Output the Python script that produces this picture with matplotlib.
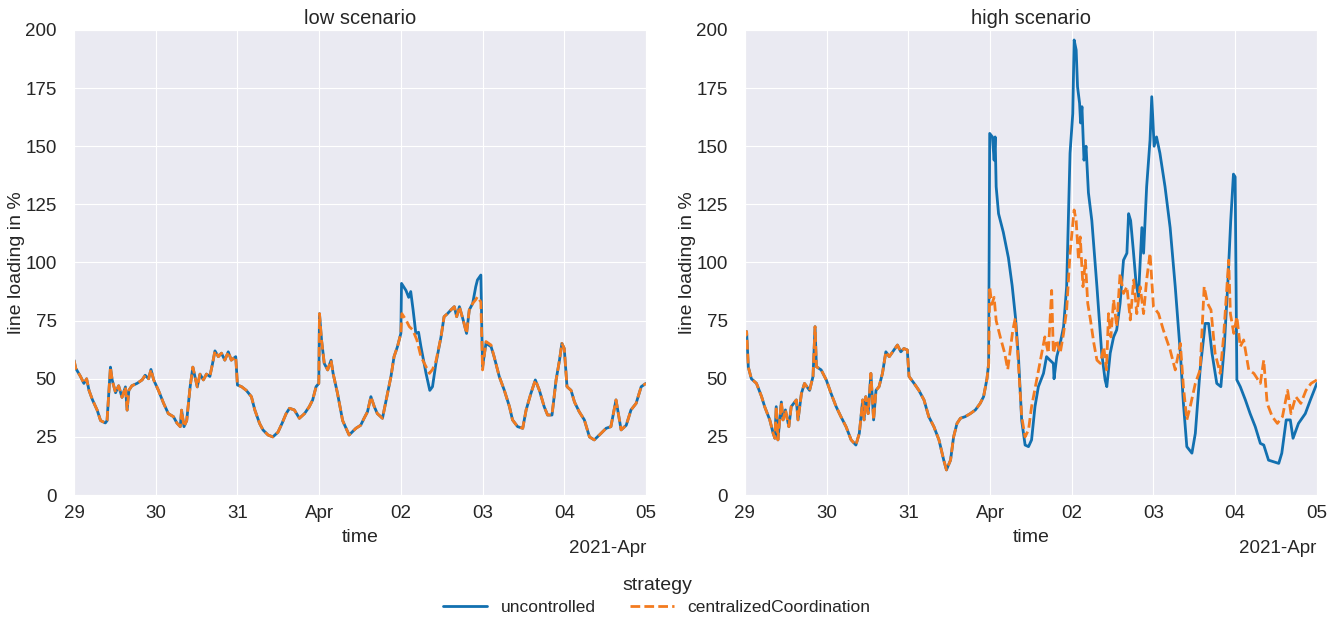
import matplotlib
matplotlib.use("Agg")
import matplotlib.pyplot as plt
import matplotlib.dates as mdates
import pandas as pd
import seaborn as sns

# hours after 2021-03-29 00:00 and line loading in %
low_unc_hours = [0, 0.5, 1.9, 2.9, 3.7, 4.4, 5.4, 6.8, 7.8, 9.2, 9.7, 10.7, 11.2, 12.2, 13.1, 14.1, 15.1, 15.6,
                 16.1, 17, 18.5, 20, 20.9, 21.9, 22.6, 23.4, 24.8, 26.3, 27.7, 29.2, 30.2, 31.2, 31.6, 32.3, 33.1,
                 34.1, 34.9, 35.5, 36.2, 37, 38, 38.9, 39.9, 40.7, 41.4, 42.4, 43.3, 44.3, 45.3, 46.2, 47.5, 48,
                 49.2, 50.6, 52.1, 53.1, 54.5, 55.5, 57, 58.4, 59.9, 61.1, 62.3, 63.3, 64.7, 66.2, 67.7, 69.1, 70.1,
                 71.1, 71.9, 72.1, 72.7, 73.5, 74.5, 75.5, 76.1, 77.4, 78.9, 80.8, 82.8, 84.2, 85.2, 86.2, 87.2,
                 88.2, 89.1, 90.6, 92.1, 93.1, 94, 95, 96, 96.2, 97.5, 98.3, 98.9, 99.6, 100.4, 101.2, 101.9, 103.4,
                 104.5, 105.3, 106.3, 107.8, 108.7, 109.7, 110.7, 111.7, 112.4, 113.2, 114.3, 115.3, 116.1, 117.1,
                 118, 118.5, 119.5, 120, 121, 122.5, 123.4, 124.9, 126.4, 127.9, 128.8, 130.3, 131.8, 132.8, 134.2,
                 135.5, 136.7, 138.1, 139.1, 140.4, 141.6, 142.6, 143.3, 144, 144.8, 146, 147, 148.4, 149.9, 151.4,
                 152.8, 154.3, 156.3, 157.7, 159.2, 160.7, 162.2, 163.6, 165.1, 166.6, 168]
low_unc_values = [58, 54.5, 51, 48, 50, 45, 41, 36.5, 32, 31, 32, 55, 49.5, 44, 47, 42, 46.5, 36.5,
                  45, 47, 48, 49.5, 51.5, 50, 54, 49.5, 45, 39.5, 35, 33.7, 31, 29.4, 36.5, 29.4, 32,
                  46.5, 55, 51, 46.5, 52, 49.5, 52, 51, 56.6, 62, 59.5, 61, 58, 61.6, 58, 59.5, 47.3,
                  46.6, 45, 42.3, 36.6, 30.8, 28, 25.8, 25, 27, 30.8, 35, 37.3, 36.6, 33, 35, 38, 40.9,
                  46.6, 48, 78, 66.7, 56.6, 53.8, 58, 52.3, 43.7, 32, 25.8, 28.7, 30, 33, 35.8, 42.3,
                  38, 35, 33, 43.7, 51, 59.5, 63.8, 69.5, 91, 88, 85, 87.5, 79.6, 69.5, 70, 63.8, 52.3,
                  45, 46.6, 56.6, 68, 76.7, 78, 79.6, 81, 76.7, 81, 75.3, 69.5, 79.6, 82.4,
                  89.6, 92.5, 94.6, 55.2, 65.2, 63.8, 59.5, 51, 45, 38, 32.3, 29.4, 28.7, 36.6, 43.7,
                  49.5, 45, 38, 34.4, 34.4, 49.5, 58, 65.2, 63, 46.6, 45, 40, 35.8, 32.3, 25,
                  23.7, 25.8, 28.7, 29.4, 40.9, 28, 30, 36.6, 39.4, 46.6, 48]

low_cc_hours = [0, 0.5, 1.9, 2.9, 3.7, 4.4, 5.4, 6.8, 7.8, 9.2, 9.7, 10.7, 11.2, 12.2, 13.1, 14.1, 15.1, 15.6,
                16.1, 17, 18.5, 20, 20.9, 21.9, 22.6, 23.4, 24.8, 26.3, 27.7, 29.2, 30.2, 31.2, 31.6, 32.3, 33.1,
                34.1, 34.9, 35.5, 36.2, 37, 38, 38.9, 39.9, 40.7, 41.4, 42.4, 43.3, 44.3, 45.3, 46.2, 47.5, 48,
                49.2, 50.6, 52.1, 53.1, 54.5, 55.5, 57, 58.4, 59.9, 61.1, 62.3, 63.3, 64.7, 66.2, 67.7, 69.1, 70.1,
                71.1, 71.9, 72.1, 72.7, 73.5, 74.5, 75.5, 76.1, 77.4, 78.9, 80.8, 82.8, 84.2, 85.2, 86.2, 87.2,
                88.2, 89.1, 90.6, 92.1, 93.1, 94, 95, 96, 96.3, 97.5, 98.5, 99.5, 100.7, 101.9, 103.4, 104.4,
                105.3, 106.3, 107.8, 108.7, 109.7, 110.7, 111.7, 112.4, 113.2, 114.3, 115.3, 116.1, 117.1,
                118, 118.5, 119.5, 120, 121, 122.5, 123.4, 124.9, 126.4, 127.9, 128.8, 130.3, 131.8, 132.8, 134.2,
                135.5, 136.7, 138.1, 139.1, 140.4, 141.6, 142.6, 143.3, 144, 144.8, 146, 147, 148.4, 149.9, 151.4,
                152.8, 154.3, 156.3, 157.7, 159.2, 160.7, 162.2, 163.6, 165.1, 166.6, 168]
low_cc_values = [58, 54.5, 51, 48, 50, 45, 41, 36.5, 32, 31, 32, 55, 49.5, 44, 47, 42, 46.5, 36.5,
                 45, 47, 48, 49.5, 51.5, 50, 54, 49.5, 45, 39.5, 35, 33.7, 31, 29.4, 36.5, 29.4, 32,
                 46.5, 55, 51, 46.5, 52, 49.5, 52, 51, 56.6, 62, 59.5, 61, 58, 61.6, 58, 59.5, 47.3,
                 46.6, 45, 42.3, 36.6, 30.8, 28, 25.8, 25, 27, 30.8, 35, 37.3, 36.6, 33, 35, 38, 40.9,
                 46.6, 48, 78, 66.7, 56.6, 53.8, 58, 52.3, 43.7, 32, 25.8, 28.7, 30, 33, 35.8, 42.3,
                 38, 35, 33, 43.7, 51, 59.5, 63.8, 69.5, 78, 75.3, 72.4, 71, 66.7, 59.5, 55.2, 52.3,
                 54, 57.5, 68, 76.7, 78, 79.6, 81, 76.7, 81, 75.3, 69.5, 79.6, 82.4,
                 84, 85.3, 83, 53.8, 66, 64.5, 59.5, 51, 45, 38, 32.3, 29.4, 28.7, 36.6, 43.7,
                 49.5, 45, 38, 34.4, 34.4, 49.5, 58, 65.2, 63, 46.6, 45, 40, 35.8, 32.3, 25,
                 23.7, 25.8, 28.7, 29.4, 40.9, 28, 30, 36.6, 39.4, 46.6, 48]

# high scenario: both strategies identical until 1 April
high_common_hours = [0, 0.5, 1, 1.9, 3.4, 4.9, 5.8, 7.3, 8.3, 8.8, 9.2, 9.7, 10.7, 11.2, 11.9, 12.9, 13.6, 15.1,
                     15.6, 16.6, 17.5, 19, 20, 20.6, 21, 22.4, 23.9, 25.3, 26.8, 28.2, 29.7, 31.2, 32.6, 33.6,
                     34.6, 35, 35.5, 36.2, 37, 37.8, 38.5, 39.4, 40.4, 41.4, 42.4, 43.8, 44.8, 45.8, 46.7, 47.7,
                     48.2, 49.7, 51.1, 52.6, 54, 55.5, 57, 58.4, 59.2, 60.4, 61.3, 62.3, 63.3, 64.7, 66.2, 67.7,
                     69.1, 70.1, 71.1, 71.6]
high_common_values = [68, 70.3, 55, 50, 48, 42.3, 38, 32.3, 26.5, 24.4, 38, 23.7, 40, 32.3, 36.6, 29.4, 38, 40.9,
                      32.3, 43.7, 48, 45, 51, 72.4, 55.2, 53.8, 49.5, 43.7, 38, 33.7, 29.4, 23.7, 21.5, 26.5,
                      40.9, 32.3, 42.3, 35, 52.3, 32.3, 45, 46.6, 52.3, 61.6, 59.5, 62.4, 64.5, 61.6, 63, 62.4,
                      51, 48, 45, 40.9, 33.7, 29.4, 23.7, 15, 10.8, 15, 25, 30.8, 33, 33.7, 35, 36.6,
                      39.4, 42.3, 50, 56.6]

high_unc_tail_hours = [71.9, 72.7, 73.2, 73.5, 73.8, 74.5, 75.9, 77.4, 78.5, 79.5, 80.4, 81.3, 82.3, 83.3, 84.2,
                       85.2, 86.2, 87.7, 88.6, 89.6, 90.6, 90.8, 91.6, 92.6, 93.6, 94.5, 95.5, 96.3, 96.7, 97.3,
                       97.7, 98.3, 98.6, 99, 99.6, 100.2, 100.9, 101.9, 103.4, 104.8, 105.8, 106.3, 107.3, 108.3,
                       109.2, 110.2, 111.2, 112.2, 112.7, 113.3, 114.1, 114.9, 115.6, 116.6, 117.1, 118, 119,
                       119.5, 120.2, 120.9, 121.9, 123.4, 124.9, 126.4, 127.9, 128.8, 129.8, 131.3, 132.3, 133.7,
                       135.2, 136.2, 137.2, 138.6, 139.8, 140.8, 141.8, 142.7, 143.5, 144, 144.5, 145.5, 147,
                       148.4, 149.9, 151.4, 152.4, 153.8, 155.3, 156.8, 157.7, 159, 160.2, 161, 162.6, 164.6,
                       166.1, 168]
high_unc_tail_values = [155.5, 154, 144, 154, 132.6, 121, 113, 102, 90, 76, 58, 32, 21.5, 20.8, 23.7,
                        38, 46.6, 52.3, 59.5, 58, 56.6, 50, 59.5, 65.2, 72.4, 89.6, 147, 164, 195.7, 191.4,
                        175.6, 168.5, 160, 167, 144, 150, 130, 118, 89.6, 61, 49.5, 46.6, 61, 68,
                        71, 82.4, 101, 104, 121, 118, 105, 91, 85.3, 115, 104, 132.6, 152.7,
                        171.3, 150, 154, 147, 132.6, 115, 89.6, 61, 39.4, 20.8, 18, 26.5, 53.8,
                        73.8, 73.8, 61, 48, 46.6, 63.8, 89.6, 118, 138, 136.8, 49.5, 46.6, 40.9,
                        35, 29.4, 22.2, 21.5, 15, 14.3, 13.6, 18, 32.3, 32.3, 24.4, 30.8, 35,
                        40.9, 48]

high_cc_tail_hours = [71.9, 72.5, 73.2, 73.8, 75, 76.3, 77.2, 78.7, 79.4, 80, 81.3, 82.3, 83.3, 84.2, 85.7, 87.2,
                      88.1, 89.1, 90.1, 90.6, 91.6, 92.6, 93.6, 94.5, 95.5, 96.7, 97.3, 98, 98.5, 99.3, 100,
                      100.7, 101.5, 102.5, 103.4, 104.4, 105.4, 106.2, 106.8, 107.5, 108.3, 109.2, 110.2, 111.2,
                      112.2, 113.2, 114.2, 115.1, 116.1, 117.1, 118, 119, 119.5, 120, 121.5, 122.9, 124.9, 126.4,
                      127.9, 128.8, 129.8, 130.8, 132.3, 133.7, 134.9, 135.9, 136.9, 138.1, 139.6, 140.6, 142.1,
                      142.6, 143.6, 144.5, 145.5, 146.5, 148, 149.5, 151.4, 152.4, 153.4, 154.9, 156.4, 157.9,
                      159.4, 160.4, 161.8, 163.3, 164.8, 166.3, 168]
high_cc_tail_values = [89.6, 82, 85, 75, 68, 61, 54, 71, 76, 64, 33.7, 25, 28, 38, 49.5, 61,
                       68, 61, 88, 61, 66.7, 61, 69.5, 79.6, 104, 122.6, 118, 101, 111, 89.6, 101,
                       82.4, 75.3, 65.2, 58, 56.6, 63.8, 53.8, 78, 68, 84, 72.4, 95.3, 86.7,
                       89.6, 75.3, 92.5, 78, 89.6, 78, 92.5, 104, 92.5, 81, 78, 71, 62.4, 53.8,
                       65.2, 46.6, 32.3, 38, 48, 53.8, 89.6, 82.4, 79.6, 61, 52.3, 68, 101,
                       78, 69.5, 76.7, 63.8, 66.7, 53.8, 52.3, 48, 58, 39.4, 33.7, 30.8, 33.7,
                       45, 35, 42.3, 39.4, 45, 48, 49.5]

strategies = ["uncontrolled", "centralizedCoordination"]
scenarios = ["low scenario", "high scenario"]
start = pd.Timestamp("2021-03-29")
end = pd.Timestamp("2021-04-05")


def to_time(hours):
    return start + pd.to_timedelta(hours, unit="h")


series = {
    "low scenario": [(low_unc_hours, low_unc_values), (low_cc_hours, low_cc_values)],
    "high scenario": [(high_common_hours + high_unc_tail_hours, high_common_values + high_unc_tail_values),
                      (high_common_hours + high_cc_tail_hours, high_common_values + high_cc_tail_values)],
}

sns.set_style("darkgrid")
plt.rcParams["font.family"] = ["Liberation Sans", "DejaVu Sans"]

colors = ["#1270b0", "#f37b1f"]

fig, axes = plt.subplots(1, 2, figsize=(13.41, 6.18), dpi=100)
fig.subplots_adjust(left=0.0552, right=0.982, top=0.9515, bottom=0.199, wspace=0.173)

for ax, scen in zip(axes, scenarios):
    (h1, v1), (h2, v2) = series[scen]
    ax.plot(to_time(h1), v1, color=colors[0], lw=2.0, label=strategies[0])
    ax.plot(to_time(h2), v2, color=colors[1], lw=2.0, dashes=(3.5, 1.5), label=strategies[1])

    ax.set_xlim(start, end)
    ax.set_ylim(0, 200)
    ax.set_yticks(range(0, 201, 25))
    locator = mdates.DayLocator()
    ax.xaxis.set_major_locator(locator)
    ax.xaxis.set_major_formatter(mdates.ConciseDateFormatter(locator))
    ax.tick_params(axis="x", length=4, color="#555555", labelsize=13.5, pad=3)
    ax.tick_params(axis="y", labelsize=13.5, pad=9)
    ax.xaxis.get_offset_text().set_fontsize(13.5)
    ax.xaxis.OFFSETTEXTPAD = 13
    ax.set_title(scen, fontsize=14.5, pad=4)
    ax.set_xlabel("time", fontsize=14, labelpad=5)
    ax.set_ylabel("line loading in %", fontsize=14, labelpad=0)

handles, labels = axes[0].get_legend_handles_labels()
fig.legend(handles, labels, title="strategy", loc="lower center", bbox_to_anchor=(0.49, -0.02),
           ncol=2, frameon=False, fontsize=12.5, title_fontsize=14, columnspacing=2.0, handlelength=2.5,
           labelspacing=0.3)

fig.savefig("out.png", dpi=100)
